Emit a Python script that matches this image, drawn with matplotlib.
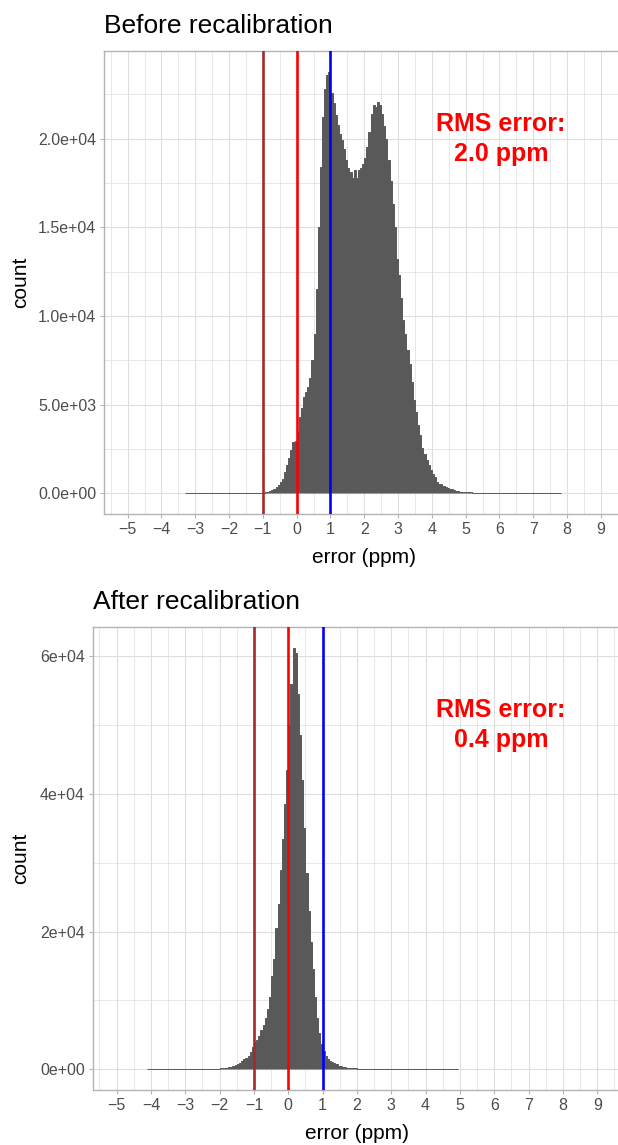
import numpy as np
import matplotlib
matplotlib.use('Agg')
from matplotlib import pyplot as plt
from matplotlib.ticker import MultipleLocator, FixedLocator, FixedFormatter

plt.rcParams['font.family'] = ['Liberation Sans', 'DejaVu Sans']

#--------------------------------
# DATA (counts per 0.0625 ppm bin)
#--------------------------------
bin_width = 0.0625

before_start = -3.3125
before_counts = [
    # -3.31 .. -1.06 : sparse tail
    10, 10, 10, 10, 10, 10, 10, 10, 10, 10, 10, 10, 10, 10, 10, 10, 10, 10, 10,
    10, 10, 10, 10, 10, 10, 10, 10, 10, 10, 10, 10, 10, 10, 10, 10, 10, 10,
    # -1.0 ..
    40, 60, 90, 130, 180, 250, 350, 480,
    640, 800, 1200, 1600, 2000, 2450, 2900, 2950,
    # 0.0 ..
    3500, 4300, 4800, 5440, 5720, 6000, 6500, 7500,
    9000, 11500, 15000, 18400, 21200, 22800, 23600, 23750,
    # 1.0 ..
    22600, 22000, 21350, 20800, 20250, 19950, 19400, 18800,
    18350, 18150, 17800, 18250, 17800, 18250, 18350, 18550,
    # 2.0 ..
    18900, 19550, 20400, 21400, 21900, 21800, 22100, 21900,
    21400, 20700, 20000, 18800, 17600, 16300, 15000, 13200,
    # 3.0 ..
    12300, 11000, 9770, 9000, 8080, 7300, 6290, 5250,
    4600, 3840, 3280, 2530, 2200, 1900, 1600, 1300,
    # 4.0 ..
    1100, 900, 650, 550, 500, 420, 350, 300,
    260, 220, 180, 150, 120, 100, 90, 80,
    # 5.0 ..
    70, 60, 50, 45, 40, 35, 30, 25, 20,
    # 5.56 .. 7.81 : sparse tail
    10, 10, 10, 10, 10, 10, 10, 10, 10, 10, 10, 10, 10, 10, 10, 10, 10, 10,
    10, 10, 10, 10, 10, 10, 10, 10, 10, 10, 10, 10, 10, 10, 10, 10, 10, 10,
]

after_start = -4.125
after_counts = [
    # -4.13 .. -2.25 : sparse tail
    10, 10, 10, 10, 10, 10, 10, 10, 10, 10, 10, 10, 10, 10, 10, 10,
    10, 10, 10, 10, 10, 10, 10, 10, 10, 10, 10, 10, 10, 10, 10,
    # -2.19 ..
    80, 100, 110, 130, 160, 200, 250, 300, 380, 480, 600, 750, 900,
    # -1.38 ..
    1200, 1450, 1700, 2000, 2500, 3300, 3900, 4300, 4900, 5700, 6500,
    7500, 8800, 10500, 13500, 16000, 20500, 24000, 29000, 33500, 38500, 43500,
    # 0.0 ..
    50000, 56000, 61200, 60500, 54500, 48500, 42000, 35000, 28500, 23000,
    18500, 14500, 10500, 7500, 5200, 3700, 2700, 2000, 1500,
    # 1.19 ..
    1200, 1000, 850, 700, 550, 450, 350, 300, 250, 200, 170, 150, 130, 100, 70,
    # 2.13 .. 4.94 : sparse tail
    10, 10, 10, 10, 10, 10, 10, 10, 10, 10, 10, 10, 10, 10, 10,
    10, 10, 10, 10, 10, 10, 10, 10, 10, 10, 10, 10, 10, 10, 10,
    10, 10, 10, 10, 10, 10, 10, 10, 10, 10, 10, 10, 10, 10, 10,
]

ref_lines = [-1, 0, 1]
ref_colors = ['#a52a2a', '#ff0000', '#0000ff']

before_rms = 2.0
after_rms = 0.4
before_rms_pos = (6.05, 20000)
after_rms_pos = (6.2, 50000)

x_ticks = list(range(-5, 10))
before_yticks = [0, 5000, 10000, 15000, 20000]
before_ylabels = ['0.0e+00', '5.0e+03', '1.0e+04', '1.5e+04', '2.0e+04']
after_yticks = [0, 20000, 40000, 60000]
after_ylabels = ['0e+00', '2e+04', '4e+04', '6e+04']

#--------------------------------
# PLOT
#--------------------------------
W, H = 618, 1145
fig = plt.figure(figsize=(W / 100, H / 100), dpi=100)


def draw_panel(rect, title, start, counts, yticks, ylabels, yminor, rms, rms_pos, ylabel_x):
    ax = fig.add_axes(rect)
    edges = start + bin_width * np.arange(len(counts) + 1)
    ax.stairs(counts, edges, fill=True, facecolor='#595959', edgecolor='#595959',
              linewidth=0.7, zorder=2)
    for xv, c in zip(ref_lines, ref_colors):
        ax.axvline(xv, color=c, lw=1.9, zorder=3)
    ax.text(rms_pos[0], rms_pos[1], 'RMS error:\n%.1f ppm' % rms, color='#ff0000',
            fontsize=18, fontweight='bold', ha='center', va='center',
            linespacing=1.3, zorder=4)

    top = max(counts)
    ax.set_xlim(-5.7, 9.7)
    ax.set_ylim(-0.05 * top, 1.05 * top)

    ax.xaxis.set_major_locator(FixedLocator(x_ticks))
    ax.xaxis.set_minor_locator(MultipleLocator(0.5))
    ax.yaxis.set_major_locator(FixedLocator(yticks))
    ax.yaxis.set_major_formatter(FixedFormatter(ylabels))
    ax.yaxis.set_minor_locator(MultipleLocator(yminor))

    ax.set_axisbelow(True)
    ax.grid(which='major', color='#dedede', lw=0.8)
    ax.grid(which='minor', color='#dedede', lw=0.5)
    for sp in ax.spines.values():
        sp.set_color('#b3b3b3')
        sp.set_linewidth(1.0)
    ax.tick_params(which='major', color='#b3b3b3', length=3, width=0.8,
                   labelcolor='#4d4d4d', labelsize=11.5, pad=2.5)
    ax.tick_params(which='minor', length=0)

    ax.set_title(title, loc='left', fontsize=19, pad=13, color='black')
    ax.set_xlabel('error (ppm)', fontsize=15, color='black')
    ax.set_ylabel('count', fontsize=15, color='black')
    ax.xaxis.set_label_coords(0.5, -0.073)
    ax.yaxis.set_label_coords(ylabel_x, 0.5)
    return ax


draw_panel([104 / W, (H - 514.4) / H, 520.5 / W, 463.2 / H], 'Before recalibration',
           before_start, before_counts, before_yticks, before_ylabels, 2500,
           before_rms, before_rms_pos, (30 - 104) / 520.5)
draw_panel([92.6 / W, (H - 1090.4) / H, 528.7 / W, 463.8 / H], 'After recalibration',
           after_start, after_counts, after_yticks, after_ylabels, 10000,
           after_rms, after_rms_pos, (30 - 92.6) / 528.7)

plt.savefig('out.png', dpi=100)
